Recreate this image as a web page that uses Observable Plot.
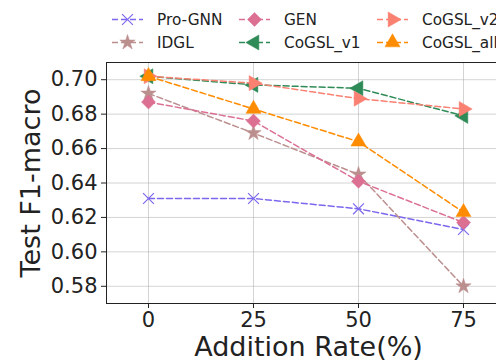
<!DOCTYPE html>
<html>
<head>
<meta charset="utf-8">
<script src="https://cdn.jsdelivr.net/npm/d3@7"></script>
<script src="https://cdn.jsdelivr.net/npm/@observablehq/plot@0.6"></script>
<style>
  html, body { margin: 0; padding: 0; background: #fff; }
  #wrap { position: relative; width: 496px; height: 362px; overflow: hidden; font-family: "DejaVu Sans", sans-serif; }
  #wrap > svg { position: absolute; left: 0; top: 0; }
</style>
</head>
<body>
<div id="wrap"></div>
<script>
// Addition rate (%) on the x axis
const rates = [0, 25, 50, 75];

// Test F1-macro per method
const proGNN   = [0.631, 0.631, 0.625, 0.613];
const idgl     = [0.692, 0.669, 0.645, 0.580];
const gen      = [0.687, 0.676, 0.641, 0.617];
const cogslV1  = [0.702, 0.697, 0.695, 0.679];
const cogslV2  = [0.702, 0.698, 0.689, 0.683];
const cogslAll = [0.702, 0.683, 0.664, 0.623];

const yTicks = [0.58, 0.60, 0.62, 0.64, 0.66, 0.68, 0.70];

const series = [
  {name: "Pro-GNN",   values: proGNN,   color: "#7b68ee", symbol: "times",    rotate: 0,   r: 5,   filled: false},
  {name: "IDGL",      values: idgl,     color: "#bc8f8f", symbol: "star",     rotate: 0,   r: 4.8, filled: true},
  {name: "GEN",       values: gen,      color: "#db7093", symbol: "diamond2", rotate: 0,   r: 6.3, filled: true},
  {name: "CoGSL_v1",  values: cogslV1,  color: "#2e8b57", symbol: "triangle", rotate: -90, r: 5.6, filled: true},
  {name: "CoGSL_v2",  values: cogslV2,  color: "#fa8072", symbol: "triangle", rotate: 90,  r: 5.6, filled: true},
  {name: "CoGSL_all", values: cogslAll, color: "#ff8c00", symbol: "triangle", rotate: 0,   r: 5.6, filled: true}
];

const rows = series.flatMap(s => rates.map((rate, i) => ({method: s.name, rate, f1: s.values[i]})));

const dash = "6,3";

const marks = [
  Plot.gridX(rates, {stroke: "#b0b0b0", strokeOpacity: 0.55, strokeWidth: 1}),
  Plot.gridY(yTicks, {stroke: "#b0b0b0", strokeOpacity: 0.55, strokeWidth: 1}),
  Plot.frame({anchor: "top", stroke: "#222", strokeWidth: 1}),
  Plot.frame({anchor: "left", stroke: "#222", strokeWidth: 1}),
  Plot.frame({anchor: "bottom", stroke: "#222", strokeWidth: 1}),
  Plot.axisX(rates, {
    tickSize: 5, tickPadding: 4, fontSize: 21, tickFormat: d => String(d),
    label: "Addition Rate(%)", labelAnchor: "center", labelArrow: "none", labelOffset: 52
  }),
  Plot.axisY(yTicks, {
    tickSize: 5, tickPadding: 4, fontSize: 21, tickFormat: d3.format(".2f"),
    label: "Test F1-macro", labelAnchor: "center", labelArrow: "none", labelOffset: 86
  })
];

for (const s of series) {
  const data = rows.filter(d => d.method === s.name);
  marks.push(Plot.line(data, {
    x: "rate", y: "f1", stroke: s.color, strokeWidth: 1.5, strokeDasharray: dash
  }));
  marks.push(Plot.dot(data, {
    x: "rate", y: "f1", symbol: () => s.symbol, r: s.r, rotate: s.rotate,
    fill: s.filled ? s.color : "none", stroke: s.color, strokeWidth: s.filled ? 0.5 : 1.2
  }));
}

const chart = Plot.plot({
  width: 496,
  height: 362,
  marginTop: 62,
  marginBottom: 59,
  marginLeft: 106,
  marginRight: 0,
  style: {fontFamily: "DejaVu Sans", color: "#222", background: "transparent"},
  x: {domain: [-10, 82.86]},
  y: {domain: [0.570, 0.710]},
  marks
});
// Axis titles are set larger than the tick labels
d3.select(chart).selectAll('[aria-label="x-axis label"] text, [aria-label="y-axis label"] text')
  .attr("font-size", 27).style("font-size", "27px");
// x title sits centred on the full figure width rather than the clipped panel
d3.select(chart).selectAll('[aria-label="x-axis label"] text').attr("dx", 7);
document.getElementById("wrap").append(chart);

// Legend: two rows, three columns, line-with-marker handles
const legend = d3.create("svg").attr("width", 496).attr("height", 60);
const cols = [112, 239, 377];
const rowsY = [19.5, 42.5];
const symMap = {times: d3.symbolTimes, star: d3.symbolStar, diamond2: d3.symbolDiamond2, triangle: d3.symbolTriangle};
series.forEach((s, i) => {
  const col = Math.floor(i / 2), row = i % 2;
  const x0 = cols[col], y0 = rowsY[row];
  const g = legend.append("g").attr("transform", `translate(${x0},${y0})`);
  g.append("line").attr("x1", 0).attr("x2", 31).attr("y1", 0).attr("y2", 0)
    .attr("stroke", s.color).attr("stroke-width", 1.5).attr("stroke-dasharray", dash);
  const area = Math.PI * s.r * s.r;
  g.append("path").attr("d", d3.symbol(symMap[s.symbol], area)())
    .attr("transform", `translate(15.5,0) rotate(${s.rotate})`)
    .attr("fill", s.filled ? s.color : "none").attr("stroke", s.color)
    .attr("stroke-width", s.filled ? 0.5 : 1.2);
  g.append("text").attr("x", 45).attr("y", 0).attr("dy", "0.35em")
    .attr("font-family", "DejaVu Sans").attr("font-size", 15.3).attr("fill", "#222")
    .text(s.name);
});
document.getElementById("wrap").append(legend.node());
</script>
</body>
</html>
